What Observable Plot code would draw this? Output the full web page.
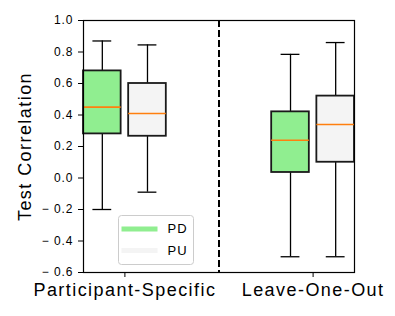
<!DOCTYPE html>
<html>
<head>
<meta charset="utf-8">
<script src="https://cdn.jsdelivr.net/npm/d3@7"></script>
<script src="https://cdn.jsdelivr.net/npm/@observablehq/plot@0.6"></script>
<style>
  body { margin: 0; background: #fff; }
  svg text { letter-spacing: 0.08em; }
</style>
</head>
<body>
<div id="chart"></div>
<script>
const categories = ["Participant-Specific", "Leave-One-Out"];
const groups = ["PD", "PU"];
const groupColors = ["#90ee90", "#f4f4f4"];
// per group: values for [Participant-Specific, Leave-One-Out]
const whiskerLow = { PD: [-0.20, -0.50], PU: [-0.09, -0.50] };
const q1 = { PD: [0.28, 0.035], PU: [0.265, 0.10] };
const median = { PD: [0.45, 0.24], PU: [0.41, 0.34] };
const q3 = { PD: [0.68, 0.42], PU: [0.60, 0.52] };
const whiskerHigh = { PD: [0.87, 0.785], PU: [0.845, 0.86] };
const yTicks = [-0.6, -0.4, -0.2, 0.0, 0.2, 0.4, 0.6, 0.8, 1.0];
const yLabel = "Test Correlation";

const offset = 0.12, halfBox = 0.1, halfCap = 0.05;
const rows = [];
categories.forEach((c, i) => {
  groups.forEach((g, j) => {
    rows.push({
      cat: c, group: g,
      x: i + (j === 0 ? -offset : offset),
      lo: whiskerLow[g][i], q1: q1[g][i], med: median[g][i],
      q3: q3[g][i], hi: whiskerHigh[g][i]
    });
  });
});

const fmt = d => {
  const s = Math.abs(d).toFixed(1);
  return d < -1e-9 ? "\u2212 " + s : s;
};

const chart = Plot.plot({
  width: 395,
  height: 316,
  marginLeft: 83,
  marginRight: 41,
  marginTop: 20,
  marginBottom: 44,
  style: { fontFamily: "'Liberation Sans', Arial, sans-serif", fontSize: "12px", color: "#000", background: "#fff" },
  x: { type: "linear", domain: [-0.22, 1.22] },
  y: { domain: [-0.6, 1.0] },
  color: { domain: groups, range: groupColors },
  marks: [
    // whiskers
    Plot.ruleX(rows, { x: "x", y1: "lo", y2: "q1", stroke: "#000", strokeWidth: 1.3 }),
    Plot.ruleX(rows, { x: "x", y1: "q3", y2: "hi", stroke: "#000", strokeWidth: 1.3 }),
    // caps
    Plot.ruleY(rows, { y: "lo", x1: d => d.x - halfCap, x2: d => d.x + halfCap, stroke: "#000", strokeWidth: 1.3 }),
    Plot.ruleY(rows, { y: "hi", x1: d => d.x - halfCap, x2: d => d.x + halfCap, stroke: "#000", strokeWidth: 1.3 }),
    // boxes
    Plot.rect(rows, { x1: d => d.x - halfBox, x2: d => d.x + halfBox, y1: "q1", y2: "q3", fill: "group", stroke: "#1a1a1a", strokeWidth: 1.8 }),
    // medians
    Plot.ruleY(rows, { y: "med", x1: d => d.x - halfBox, x2: d => d.x + halfBox, stroke: "#ff7f0e", strokeWidth: 1.6 }),
    // separator
    Plot.ruleX([0.5], { stroke: "#000", strokeWidth: 2, strokeDasharray: "7,3" }),
    Plot.frame({ stroke: "#000", strokeWidth: 1.2 }),
    // axes
    Plot.axisY({ ticks: yTicks, tickFormat: fmt, tickSize: 5, tickPadding: 5, fontSize: 12, label: null }),
    Plot.axisX({ ticks: [0, 1], tickFormat: i => categories[i], tickSize: 5, tickPadding: 6, fontSize: 18, label: null }),
    Plot.text([yLabel], { text: d => d, frameAnchor: "left", rotate: -90, dx: -58, fontSize: 18, textAnchor: "middle", lineAnchor: "middle" }),
    // legend
    Plot.frame({ insetLeft: 35, insetRight: 161, insetTop: 195, insetBottom: 8, rx: 3, fill: "#fff", fillOpacity: 0.8, stroke: "#cccccc", strokeWidth: 1 }),
    Plot.frame({ insetLeft: 38, insetRight: 197, insetTop: 206, insetBottom: 41, fill: groupColors[0], stroke: "none" }),
    Plot.frame({ insetLeft: 38, insetRight: 197, insetTop: 227.5, insetBottom: 19.5, fill: groupColors[1], stroke: "none" }),
    Plot.text([groups[0]], { text: d => d, frameAnchor: "bottom-left", dx: 84, dy: -43.5, fontSize: 13, textAnchor: "start", lineAnchor: "middle" }),
    Plot.text([groups[1]], { text: d => d, frameAnchor: "bottom-left", dx: 84, dy: -22, fontSize: 13, textAnchor: "start", lineAnchor: "middle" })
  ]
});
document.getElementById("chart").appendChild(chart);
</script>
</body>
</html>
